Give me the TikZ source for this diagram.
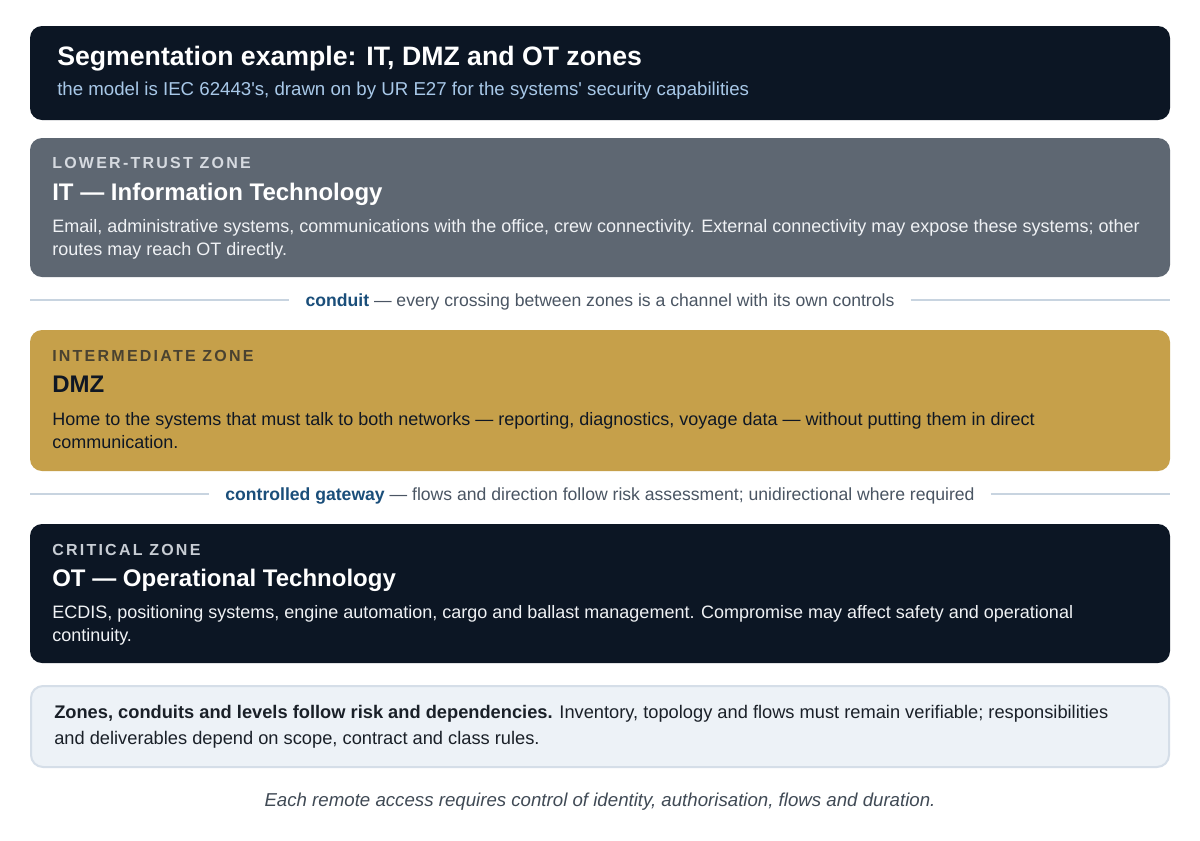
\documentclass[tikz,border=0pt]{standalone}
\usepackage{fontspec}
\setmainfont{Liberation Sans}
\newfontfamily\zonelabelfont[LetterSpace=14]{Liberation Sans}
\usepackage{xcolor}
\definecolor{NavyFill}{RGB}{12,22,36}
\definecolor{SubText}{RGB}{168,200,232}
\definecolor{ITGray}{RGB}{94,103,114}
\definecolor{ITLabel}{RGB}{214,218,224}
\definecolor{DmzGold}{RGB}{198,160,74}
\definecolor{DmzLabel}{RGB}{74,66,48}
\definecolor{DarkText}{RGB}{15,23,36}
\definecolor{OTLabel}{RGB}{200,205,212}
\definecolor{LightText}{RGB}{240,242,245}
\definecolor{RuleLine}{RGB}{200,212,224}
\definecolor{ConduitBlue}{RGB}{26,78,122}
\definecolor{MutedText}{RGB}{74,85,99}
\definecolor{NoteFill}{RGB}{237,242,247}
\definecolor{NoteBorder}{RGB}{213,222,232}
\definecolor{NoteText}{RGB}{26,32,40}
\definecolor{FooterText}{RGB}{64,74,85}
\usepackage{tikz}
\usetikzlibrary{positioning, calc}
\tikzset{
  % Zone panel
  zone/.style={
    rounded corners=9pt,
    draw=none
  },
  % Plain text node
  txt/.style={
    inner sep=0pt,
    anchor=base west,
    align=left
  },
  % Small spaced label above a zone
  zlabel/.style={
    txt,
    font=\zonelabelfont\fontsize{12}{14}\selectfont\bfseries
  },
  % Zone heading
  zhead/.style={
    txt,
    font=\fontsize{18}{21}\selectfont\bfseries
  },
  % Zone body text (anchored at its last line)
  zbody/.style={
    txt,
    font=\fontsize{13.5}{17.25}\selectfont
  },
  % Separator caption
  sepcap/.style={
    inner sep=0pt,
    anchor=base,
    font=\fontsize{13.2}{15}\selectfont,
    text=MutedText
  },
  % Separator rule
  sepline/.style={
    draw=RuleLine,
    line width=1.2pt
  }
}

\begin{document}
\begin{tikzpicture}[x=0.75pt, y=-0.75pt]
  \useasboundingbox[fill=white] (0,0) rectangle (1200,840);

  % Title panel
  \fill[zone, NavyFill] (30,26) rectangle (1170,120);
  \node[txt, font=\fontsize{20}{23}\selectfont\bfseries, text=white] (title) at (57,65)
    {Segmentation example: IT, DMZ and OT zones};
  \node[txt, font=\fontsize{14}{16}\selectfont, text=SubText] (subtitle) at (57,95)
    {the model is IEC 62443\textquotesingle s, drawn on by UR E27 for the systems\textquotesingle\ security capabilities};

  % IT zone
  \fill[zone, ITGray] (30,138) rectangle (1170,277);
  \node[zlabel, text=ITLabel] (itlabel) at (52,168.5) {LOWER-TRUST ZONE};
  \node[zhead, text=white] (ithead) at (52,200) {IT — Information Technology};
  \node[zbody, text=LightText] (itbody) at (52,255)
    {Email, administrative systems, communications with the office, crew connectivity. External connectivity may expose these systems; other\\
     routes may reach OT directly.};

  % Conduit
  \node[sepcap] (conduit) at (600,306)
    {\textcolor{ConduitBlue}{\bfseries conduit} — every crossing between zones is a channel with its own controls};
  \coordinate (cl) at (30,300);
  \coordinate (cr) at (1170,300);
  \draw[sepline] (cl) -- ($(cl -| conduit.west)+(-16,0)$);
  \draw[sepline] ($(cr -| conduit.east)+(16,0)$) -- (cr);

  % DMZ zone
  \fill[zone, DmzGold] (30,330) rectangle (1170,471);
  \node[zlabel, text=DmzLabel] (dmzlabel) at (52,361.5) {INTERMEDIATE ZONE};
  \node[zhead, text=DarkText] (dmzhead) at (52,392) {DMZ};
  \node[zbody, text=DarkText] (dmzbody) at (52,448)
    {Home to the systems that must talk to both networks — reporting, diagnostics, voyage data — without putting them in direct\\
     communication.};

  % Controlled gateway
  \node[sepcap] (gateway) at (600,500)
    {\textcolor{ConduitBlue}{\bfseries controlled gateway} — flows and direction follow risk assessment; unidirectional where required};
  \coordinate (gl) at (30,494);
  \coordinate (gr) at (1170,494);
  \draw[sepline] (gl) -- ($(gl -| gateway.west)+(-16,0)$);
  \draw[sepline] ($(gr -| gateway.east)+(16,0)$) -- (gr);

  % OT zone
  \fill[zone, NavyFill] (30,524) rectangle (1170,663);
  \node[zlabel, text=OTLabel] (otlabel) at (52,555.5) {CRITICAL ZONE};
  \node[zhead, text=white] (othead) at (52,586) {OT — Operational Technology};
  \node[zbody, text=LightText] (otbody) at (52,641)
    {ECDIS, positioning systems, engine automation, cargo and ballast management. Compromise may affect safety and operational\\
     continuity.};

  % Note panel
  \draw[zone, draw=NoteBorder, fill=NoteFill, line width=1.5pt] (31,686) rectangle (1169,767);
  \node[txt, font=\fontsize{13.7}{19.5}\selectfont, text=NoteText] (note) at (54,744)
    {\textbf{Zones, conduits and levels follow risk and dependencies.} Inventory, topology and flows must remain verifiable; responsibilities\\
     and deliverables depend on scope, contract and class rules.};

  % Footer
  \node[inner sep=0pt, anchor=base, font=\fontsize{14}{16}\selectfont\itshape, text=FooterText] (footer) at (600,806)
    {Each remote access requires control of identity, authorisation, flows and duration.};
\end{tikzpicture}
\end{document}
